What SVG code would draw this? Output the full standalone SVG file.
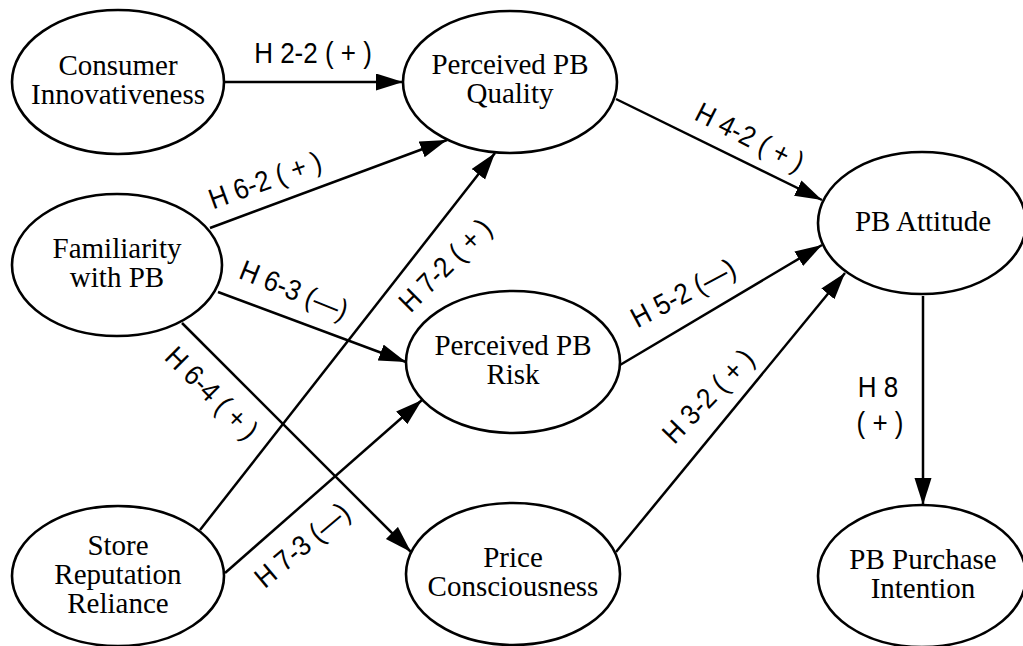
<svg xmlns="http://www.w3.org/2000/svg" width="1023" height="646" viewBox="0 0 1023 646">
<style>
.node ellipse{fill:#fff;stroke:#000;stroke-width:2.6}
.node text{font-family:"Liberation Serif","Times New Roman",serif;font-size:29px;fill:#000;text-anchor:middle}
.edges line{stroke:#000;stroke-width:2.5;marker-end:url(#arr)}
.lbl text{font-family:"Liberation Sans",Arial,sans-serif;font-size:26px;fill:#000;text-anchor:middle}
</style>
<defs>
<marker id="arr" markerUnits="userSpaceOnUse" markerWidth="28" markerHeight="18" refX="27" refY="8.5" orient="auto">
<path d="M0,0 L27,8.5 L0,17 z" fill="#000"/>
</marker>
</defs>
<rect width="1023" height="646" fill="#fff"/>
<g id="edges" class="edges">
<line x1="225" y1="82" x2="403" y2="82"/>
<line x1="210" y1="228" x2="447" y2="140"/>
<line x1="218" y1="292" x2="406" y2="362"/>
<line x1="182" y1="323" x2="411" y2="552"/>
<line x1="200" y1="530" x2="495" y2="153"/>
<line x1="225" y1="573" x2="422" y2="400"/>
<line x1="616" y1="99" x2="822" y2="200"/>
<line x1="620" y1="365" x2="822" y2="245"/>
<line x1="616" y1="552" x2="845" y2="273"/>
<line x1="923" y1="296" x2="923" y2="505"/>
</g>
<g id="labels" class="lbl">
<text transform="translate(313,63) scale(1,1.1)">H 2-2 ( + )</text>
<text transform="translate(265,180) rotate(-20) scale(1,1.1)" y="9">H 6-2 ( + )</text>
<text transform="translate(294,290) rotate(22) scale(1,1.1)" y="9">H 6-3 (—)</text>
<text transform="translate(212,393) rotate(45) scale(1,1.1)" y="9">H 6-4 ( + )</text>
<text transform="translate(445,265) rotate(-45) scale(1,1.1)" y="9">H 7-2 ( + )</text>
<text transform="translate(302,545) rotate(-40) scale(1,1.1)" y="9">H 7-3 (—)</text>
<text transform="translate(750,137) rotate(27) scale(1,1.1)" y="9">H 4-2 ( + )</text>
<text transform="translate(683,293) rotate(-28) scale(1,1.1)" y="9">H 5-2 (—)</text>
<text transform="translate(708,396) rotate(-46) scale(1,1.1)" y="9">H 3-2 ( + )</text>
<text transform="translate(878,397) scale(1,1.1)">H 8</text>
<text transform="translate(880,433) scale(1,1.1)">( + )</text>
</g>
<g id="consumer-innovativeness" class="node">
<ellipse cx="118" cy="82" rx="106" ry="72"/>
<text x="118" y="75">Consumer</text>
<text x="118" y="104">Innovativeness</text>
</g>
<g id="perceived-pb-quality" class="node">
<ellipse cx="510" cy="82" rx="107" ry="71"/>
<text x="510" y="74">Perceived PB</text>
<text x="510" y="103">Quality</text>
</g>
<g id="familiarity-with-pb" class="node">
<ellipse cx="117" cy="265" rx="105" ry="71"/>
<text x="117" y="258">Familiarity</text>
<text x="117" y="287">with PB</text>
</g>
<g id="perceived-pb-risk" class="node">
<ellipse cx="513" cy="362" rx="107" ry="71"/>
<text x="513" y="355">Perceived PB</text>
<text x="513" y="384">Risk</text>
</g>
<g id="price-consciousness" class="node">
<ellipse cx="513" cy="574" rx="107" ry="71"/>
<text x="513" y="567">Price</text>
<text x="513" y="596">Consciousness</text>
</g>
<g id="store-reputation-reliance" class="node">
<ellipse cx="118" cy="576" rx="106" ry="70"/>
<text x="118" y="555">Store</text>
<text x="118" y="584">Reputation</text>
<text x="118" y="613">Reliance</text>
</g>
<g id="pb-attitude" class="node">
<ellipse cx="922" cy="223" rx="104" ry="71"/>
<text x="923" y="231">PB Attitude</text>
</g>
<g id="pb-purchase-intention" class="node">
<ellipse cx="922" cy="576" rx="104" ry="71"/>
<text x="923" y="569">PB Purchase</text>
<text x="923" y="598">Intention</text>
</g>
</svg>
